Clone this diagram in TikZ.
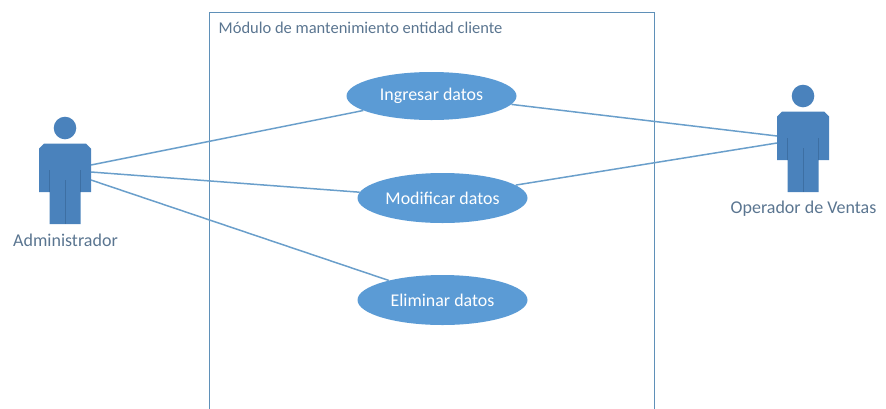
\documentclass[tikz,border=0pt]{standalone}
\usepackage{fontspec}
\setmainfont{Carlito}
\usetikzlibrary{shapes.geometric}
\definecolor{ufill}{HTML}{5B9BD5}
\definecolor{afill}{HTML}{4A82BC}
\definecolor{aline}{HTML}{3D6FA3}
\definecolor{uline}{HTML}{6A9FCB}
\definecolor{boxline}{HTML}{5F90B8}
\definecolor{utext}{HTML}{5A7590}
\tikzset{
  x=1pt,y=-1pt,
  usecase/.style={ellipse,fill=ufill,text=white,inner sep=0pt,minimum width=170pt,font=\fontsize{17.9}{20}\selectfont},
  label text/.style={text=utext,inner sep=0pt,font=\fontsize{18}{20}\selectfont},
  title text/.style={text=utext,inner sep=0pt,font=\fontsize{16.5}{20}\selectfont},
  conn/.style={draw=uline,line width=1.5pt},
  sysbox/.style={draw=boxline,line width=1.1pt},
  actor/.pic={
    \fill[afill] (0,-32) circle (11.3);
    \fill[afill] (-21,-16.5) -- (21,-16.5) -- (26,-11.5) -- (26,32) -- (15.5,32) -- (15.5,64) -- (-15.5,64) -- (-15.5,32) -- (-26,32) -- (-26,-11.5) -- cycle;
    \draw[aline,line width=.6pt] (0,20) -- (0,64) (-15.5,10) -- (-15.5,32) (15.5,10) -- (15.5,32);
  }
}
\begin{document}
\begin{tikzpicture}
\useasboundingbox (0,0) rectangle (886,408);
\draw[sysbox] (209.5,420) -- (209.5,12.5) -- (654.5,12.5) -- (654.5,420);
\node[title text,anchor=west] (sys) at (218.5,27.5) {Módulo de mantenimiento entidad cliente};
\node[usecase,minimum height=48pt] (ing) at (431.5,96) {Ingresar datos};
\node[usecase,minimum height=50pt] (mod) at (442.5,198) {Modificar datos};
\node[usecase,minimum height=50pt] (eli) at (442.5,300) {Eliminar datos};
\pic at (65,160) {actor};
\pic at (803,128) {actor};
\coordinate (ad1) at (91,165);
\coordinate (ad2) at (91,172);
\coordinate (ad3) at (91,180);
\coordinate (op1) at (777,136);
\coordinate (op2) at (777,143);
\node[label text] (admin) at (65.5,240.5) {Administrador};
\node[label text] (oper) at (803.5,208.5) {Operador de Ventas};
\draw[conn] (ad1) -- (ing.192);
\draw[conn] (ad2) -- (mod.176);
\draw[conn] (ad3) -- (eli.160);
\draw[conn] (ing.354) -- (op1);
\draw[conn] (mod.10) -- (op2);
\end{tikzpicture}
\end{document}
